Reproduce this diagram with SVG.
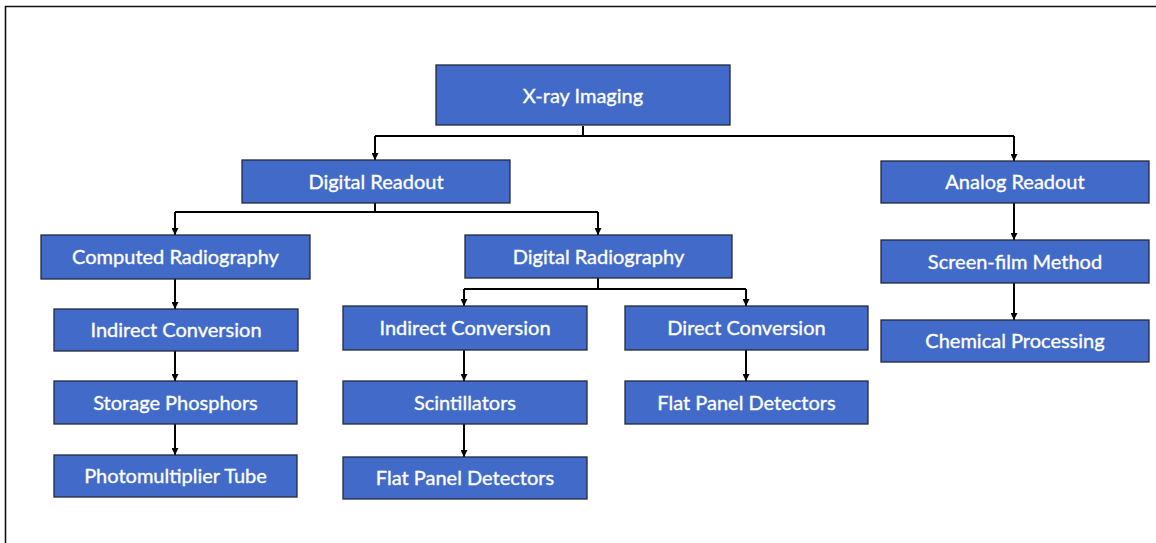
<svg xmlns="http://www.w3.org/2000/svg" width="1156" height="543" viewBox="0 0 1156 543">
  <style>
    .box { fill: #426bc9; stroke: #222a3c; stroke-width: 1.3; }
    .lbl { fill: #ffffff; stroke: #ffffff; stroke-width: 0.35; font-family: Lato, "Open Sans", "Liberation Sans", sans-serif; font-size: 20px; text-anchor: middle; dominant-baseline: central; }
    .wire { fill: none; stroke: #000000; stroke-width: 2; marker-end: url(#arrow); }
    .bare { fill: none; stroke: #000000; stroke-width: 2; }
  </style>
  <defs>
    <marker id="arrow" viewBox="0 0 10 10" refX="10" refY="5" markerWidth="7" markerHeight="7" markerUnits="userSpaceOnUse" orient="auto">
      <path d="M0,0 L10,5 L0,10 z" fill="#000000"/>
    </marker>
  </defs>

  <rect width="1156" height="543" fill="#ffffff"/>
  <!-- outer frame -->
  <path d="M5.5,543 V6.5 H1156" fill="none" stroke="#111111" stroke-width="1.6"/>

  <g id="connectors">
    <!-- X-ray Imaging to the two readout branches -->
    <path class="bare" d="M583,126 V136 M375,136 H1014"/>
    <path class="wire" d="M375,136 V160"/>
    <path class="wire" d="M1014,136 V161"/>
    <!-- Digital Readout branches -->
    <path class="bare" d="M375,203 V212 M175,212 H598"/>
    <path class="wire" d="M175,212 V235"/>
    <path class="wire" d="M598,212 V235"/>
    <!-- Computed Radiography chain -->
    <path class="wire" d="M175,279 V309"/>
    <path class="wire" d="M175,351 V381"/>
    <path class="wire" d="M175,424 V455"/>
    <!-- Digital Radiography branches -->
    <path class="bare" d="M598,278 V289 M464,289 H746"/>
    <path class="wire" d="M464,289 V306"/>
    <path class="wire" d="M746,289 V306"/>
    <path class="wire" d="M464,350 V381"/>
    <path class="wire" d="M464,424 V457"/>
    <path class="wire" d="M746,350 V381"/>
    <!-- Analog chain -->
    <path class="wire" d="M1014,203 V240"/>
    <path class="wire" d="M1014,283 V320"/>
  </g>

  <g id="xray-imaging">
    <rect class="box" x="436" y="65" width="294" height="60"/>
    <text class="lbl" x="583" y="95">X-ray Imaging</text>
  </g>
  <g id="digital-readout">
    <rect class="box" x="242" y="160" width="268" height="43"/>
    <text class="lbl" x="376" y="181">Digital Readout</text>
  </g>
  <g id="analog-readout">
    <rect class="box" x="881" y="161" width="268" height="42"/>
    <text class="lbl" x="1015" y="181">Analog Readout</text>
  </g>
  <g id="screen-film">
    <rect class="box" x="881" y="240" width="268" height="43"/>
    <text class="lbl" x="1015" y="261">Screen-film Method</text>
  </g>
  <g id="chemical-processing">
    <rect class="box" x="881" y="320" width="268" height="42"/>
    <text class="lbl" x="1015" y="340">Chemical Processing</text>
  </g>
  <g id="computed-radiography">
    <rect class="box" x="41" y="235" width="269" height="44"/>
    <text class="lbl" x="175.5" y="256">Computed Radiography</text>
  </g>
  <g id="cr-indirect-conversion">
    <rect class="box" x="54" y="309" width="244" height="42"/>
    <text class="lbl" x="176" y="329">Indirect Conversion</text>
  </g>
  <g id="storage-phosphors">
    <rect class="box" x="54" y="381" width="243" height="43"/>
    <text class="lbl" x="175.5" y="402">Storage Phosphors</text>
  </g>
  <g id="photomultiplier-tube">
    <rect class="box" x="54" y="455" width="243" height="42"/>
    <text class="lbl" x="175.5" y="475">Photomultiplier Tube</text>
  </g>
  <g id="digital-radiography">
    <rect class="box" x="465" y="235" width="267" height="43"/>
    <text class="lbl" x="598.5" y="256">Digital Radiography</text>
  </g>
  <g id="dr-indirect-conversion">
    <rect class="box" x="343" y="306" width="244" height="44"/>
    <text class="lbl" x="465" y="327">Indirect Conversion</text>
  </g>
  <g id="direct-conversion">
    <rect class="box" x="625" y="306" width="243" height="44"/>
    <text class="lbl" x="746.5" y="327">Direct Conversion</text>
  </g>
  <g id="scintillators">
    <rect class="box" x="343" y="381" width="244" height="43"/>
    <text class="lbl" x="465" y="402">Scintillators</text>
  </g>
  <g id="indirect-flat-panel">
    <rect class="box" x="343" y="457" width="244" height="42"/>
    <text class="lbl" x="465" y="477">Flat Panel Detectors</text>
  </g>
  <g id="direct-flat-panel">
    <rect class="box" x="625" y="381" width="243" height="43"/>
    <text class="lbl" x="746.5" y="402">Flat Panel Detectors</text>
  </g>
</svg>
